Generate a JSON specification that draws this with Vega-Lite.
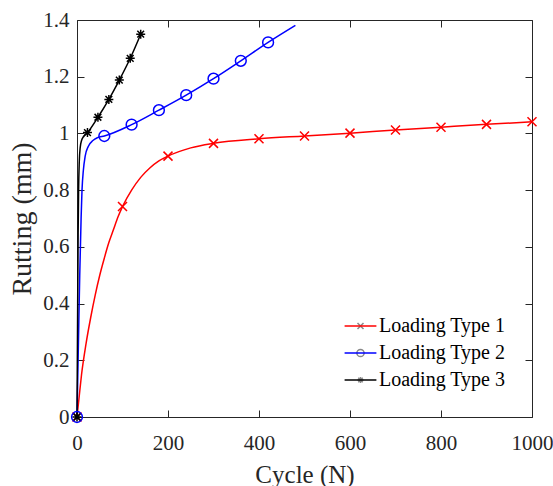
{
  "$schema": "https://vega.github.io/schema/vega-lite/v6.json",
  "autosize": "none",
  "width": 455,
  "height": 397,
  "padding": {"left": 77, "top": 20, "right": 21, "bottom": 69},
  "background": "white",
  "config": {
    "font": "Liberation Serif",
    "style": {
      "guide-label": {"font": "Liberation Serif", "fontSize": 21, "fill": "#262626"},
      "guide-title": {"font": "Liberation Serif", "fill": "#262626"}
    },
    "view": {"stroke": "#262626", "strokeWidth": 1},
    "axis": {
      "grid": false,
      "domain": false,
      "labelFlush": false,
      "labelFont": "Liberation Serif",
      "titleFont": "Liberation Serif",
      "labelColor": "#262626",
      "titleColor": "#262626",
      "tickColor": "#262626",
      "labelFontSize": 21,
      "titleFontWeight": "normal",
      "tickSize": -7,
      "tickWidth": 1
    },
    "legend": {
      "labelFont": "Liberation Serif",
      "labelFontSize": 20,
      "labelColor": "#000000"
    }
  },
  "datasets": {
    "lines": [
      {"series": "Loading Type 1", "cycle": 0, "rutting": 0},
      {"series": "Loading Type 1", "cycle": 5, "rutting": 0.075},
      {"series": "Loading Type 1", "cycle": 10, "rutting": 0.15},
      {"series": "Loading Type 1", "cycle": 20, "rutting": 0.26},
      {"series": "Loading Type 1", "cycle": 30, "rutting": 0.35},
      {"series": "Loading Type 1", "cycle": 40, "rutting": 0.43},
      {"series": "Loading Type 1", "cycle": 50, "rutting": 0.5},
      {"series": "Loading Type 1", "cycle": 60, "rutting": 0.56},
      {"series": "Loading Type 1", "cycle": 70, "rutting": 0.615},
      {"series": "Loading Type 1", "cycle": 80, "rutting": 0.66},
      {"series": "Loading Type 1", "cycle": 90, "rutting": 0.705},
      {"series": "Loading Type 1", "cycle": 100, "rutting": 0.742},
      {"series": "Loading Type 1", "cycle": 120, "rutting": 0.8},
      {"series": "Loading Type 1", "cycle": 140, "rutting": 0.845},
      {"series": "Loading Type 1", "cycle": 160, "rutting": 0.878},
      {"series": "Loading Type 1", "cycle": 180, "rutting": 0.903},
      {"series": "Loading Type 1", "cycle": 200, "rutting": 0.92},
      {"series": "Loading Type 1", "cycle": 250, "rutting": 0.949},
      {"series": "Loading Type 1", "cycle": 300, "rutting": 0.965},
      {"series": "Loading Type 1", "cycle": 400, "rutting": 0.981},
      {"series": "Loading Type 1", "cycle": 500, "rutting": 0.991},
      {"series": "Loading Type 1", "cycle": 600, "rutting": 1.001},
      {"series": "Loading Type 1", "cycle": 700, "rutting": 1.012},
      {"series": "Loading Type 1", "cycle": 800, "rutting": 1.022},
      {"series": "Loading Type 1", "cycle": 900, "rutting": 1.032},
      {"series": "Loading Type 1", "cycle": 1000, "rutting": 1.041},
      {"series": "Loading Type 2", "cycle": 0, "rutting": 0},
      {"series": "Loading Type 2", "cycle": 3, "rutting": 0.25},
      {"series": "Loading Type 2", "cycle": 6, "rutting": 0.5},
      {"series": "Loading Type 2", "cycle": 9, "rutting": 0.7},
      {"series": "Loading Type 2", "cycle": 11, "rutting": 0.8},
      {"series": "Loading Type 2", "cycle": 14, "rutting": 0.87},
      {"series": "Loading Type 2", "cycle": 18, "rutting": 0.92},
      {"series": "Loading Type 2", "cycle": 25, "rutting": 0.955},
      {"series": "Loading Type 2", "cycle": 35, "rutting": 0.975},
      {"series": "Loading Type 2", "cycle": 45, "rutting": 0.985},
      {"series": "Loading Type 2", "cycle": 60, "rutting": 0.991},
      {"series": "Loading Type 2", "cycle": 120, "rutting": 1.031},
      {"series": "Loading Type 2", "cycle": 180, "rutting": 1.082},
      {"series": "Loading Type 2", "cycle": 240, "rutting": 1.135},
      {"series": "Loading Type 2", "cycle": 300, "rutting": 1.193},
      {"series": "Loading Type 2", "cycle": 360, "rutting": 1.256},
      {"series": "Loading Type 2", "cycle": 420, "rutting": 1.321},
      {"series": "Loading Type 2", "cycle": 480, "rutting": 1.381},
      {"series": "Loading Type 3", "cycle": 0, "rutting": 0},
      {"series": "Loading Type 3", "cycle": 1.5, "rutting": 0.4},
      {"series": "Loading Type 3", "cycle": 2.5, "rutting": 0.65},
      {"series": "Loading Type 3", "cycle": 3.5, "rutting": 0.8},
      {"series": "Loading Type 3", "cycle": 5, "rutting": 0.9},
      {"series": "Loading Type 3", "cycle": 7, "rutting": 0.95},
      {"series": "Loading Type 3", "cycle": 10, "rutting": 0.975},
      {"series": "Loading Type 3", "cycle": 15, "rutting": 0.99},
      {"series": "Loading Type 3", "cycle": 23, "rutting": 1.003},
      {"series": "Loading Type 3", "cycle": 46, "rutting": 1.057},
      {"series": "Loading Type 3", "cycle": 70, "rutting": 1.12},
      {"series": "Loading Type 3", "cycle": 93, "rutting": 1.188},
      {"series": "Loading Type 3", "cycle": 117, "rutting": 1.265},
      {"series": "Loading Type 3", "cycle": 140, "rutting": 1.35}
    ],
    "markers": [
      {"series": "Loading Type 1", "cycle": 0, "rutting": 0},
      {"series": "Loading Type 1", "cycle": 100, "rutting": 0.742},
      {"series": "Loading Type 1", "cycle": 200, "rutting": 0.92},
      {"series": "Loading Type 1", "cycle": 300, "rutting": 0.965},
      {"series": "Loading Type 1", "cycle": 400, "rutting": 0.981},
      {"series": "Loading Type 1", "cycle": 500, "rutting": 0.991},
      {"series": "Loading Type 1", "cycle": 600, "rutting": 1.001},
      {"series": "Loading Type 1", "cycle": 700, "rutting": 1.012},
      {"series": "Loading Type 1", "cycle": 800, "rutting": 1.022},
      {"series": "Loading Type 1", "cycle": 900, "rutting": 1.032},
      {"series": "Loading Type 1", "cycle": 1000, "rutting": 1.041},
      {"series": "Loading Type 2", "cycle": 0, "rutting": 0},
      {"series": "Loading Type 2", "cycle": 60, "rutting": 0.991},
      {"series": "Loading Type 2", "cycle": 120, "rutting": 1.031},
      {"series": "Loading Type 2", "cycle": 180, "rutting": 1.082},
      {"series": "Loading Type 2", "cycle": 240, "rutting": 1.135},
      {"series": "Loading Type 2", "cycle": 300, "rutting": 1.193},
      {"series": "Loading Type 2", "cycle": 360, "rutting": 1.256},
      {"series": "Loading Type 2", "cycle": 420, "rutting": 1.321},
      {"series": "Loading Type 3", "cycle": 0, "rutting": 0},
      {"series": "Loading Type 3", "cycle": 23, "rutting": 1.003},
      {"series": "Loading Type 3", "cycle": 46, "rutting": 1.057},
      {"series": "Loading Type 3", "cycle": 70, "rutting": 1.12},
      {"series": "Loading Type 3", "cycle": 93, "rutting": 1.188},
      {"series": "Loading Type 3", "cycle": 117, "rutting": 1.265},
      {"series": "Loading Type 3", "cycle": 140, "rutting": 1.35}
    ]
  },
  "resolve": {"scale": {"color": "independent"}, "legend": {"color": "independent"}},
  "layer": [
    {
      "data": {"name": "lines"},
      "mark": {"type": "line", "interpolate": "monotone", "strokeWidth": 1.5},
      "encoding": {
        "x": {
          "field": "cycle", "type": "quantitative",
          "scale": {"domain": [0, 1000], "nice": false},
          "axis": {"orient": "bottom", "values": [0, 200, 400, 600, 800, 1000], "format": "d", "title": "Cycle (N)", "labelFont": "Liberation Serif", "titleFont": "Liberation Serif", "labelFlush": false, "titleFontSize": 25, "labelPadding": 22, "titlePadding": 9}
        },
        "y": {
          "field": "rutting", "type": "quantitative",
          "scale": {"domain": [0, 1.4], "nice": false},
          "axis": {"orient": "left", "values": [0, 0.2, 0.4, 0.6, 0.8, 1, 1.2, 1.4], "format": "~g", "title": "Rutting (mm)", "labelFont": "Liberation Serif", "titleFont": "Liberation Serif", "labelFlush": false, "titleFontSize": 28, "labelPadding": 15, "titlePadding": 6}
        },
        "color": {
          "field": "series", "type": "nominal",
          "scale": {"range": ["#ff0000", "#0000ff", "#000000"]},
          "legend": {
            "title": null, "orient": "none", "legendX": 273.5, "legendY": 296,
            "symbolType": "M-5.3,0L5.3,0", "symbolSize": 36, "symbolStrokeWidth": 1.5,
            "labelFont": "Liberation Serif", "labelFontSize": 20,
            "labelOffset": 8.5, "rowPadding": 7, "padding": 0
          }
        },
        "detail": {"field": "series"}
      }
    },
    {
      "data": {"name": "markers"},
      "mark": {"type": "point", "filled": false, "size": 81, "strokeWidth": 1.5, "opacity": 1},
      "encoding": {
        "x": {
          "field": "cycle", "type": "quantitative",
          "axis": {"orient": "top", "values": [0, 200, 400, 600, 800, 1000], "labels": false, "title": null}
        },
        "y": {
          "field": "rutting", "type": "quantitative",
          "axis": {"orient": "right", "values": [0, 0.2, 0.4, 0.6, 0.8, 1, 1.2, 1.4], "labels": false, "title": null}
        },
        "color": {
          "field": "series", "type": "nominal",
          "scale": {"range": ["#ff0000", "#0000ff", "#000000"]},
          "legend": null
        },
        "shape": {
          "field": "series", "type": "nominal",
          "scale": {"range": [
            "M-1,-1L1,1M-1,1L1,-1",
            "M1.2,0A1.2,1.2 0 1,1 -1.2,0A1.2,1.2 0 1,1 1.2,0Z",
            "M-1,0L1,0M0,-1L0,1M-0.75,-0.75L0.75,0.75M-0.75,0.75L0.75,-0.75"
          ]},
          "legend": {
            "title": null, "orient": "none", "legendX": 273.5, "legendY": 296,
            "symbolSize": 36, "symbolStrokeWidth": 1.5,
            "labelFont": "Liberation Serif", "labelFontSize": 20,
            "labelOffset": 8.5, "rowPadding": 7, "padding": 0, "labelOpacity": 0,
            "encode": {"symbols": {"update": {"stroke": {"signal": "datum.value === 'Loading Type 1' ? '#ff0000' : datum.value === 'Loading Type 2' ? '#0000ff' : '#000000'"}, "fill": {"value": "transparent"}}}}
          }
        }
      }
    }
  ]
}
